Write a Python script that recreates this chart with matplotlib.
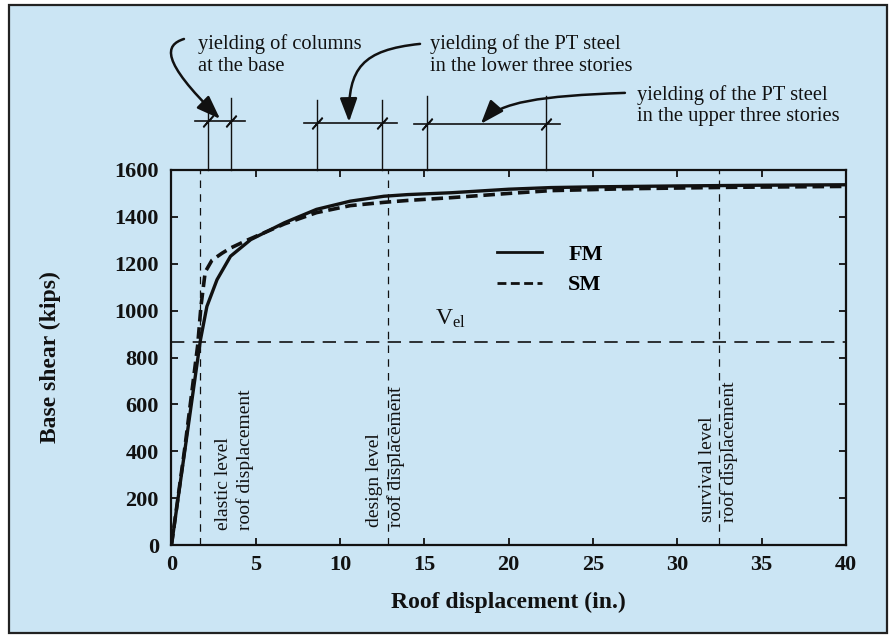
import numpy as np
import matplotlib.pyplot as plt
from matplotlib.patches import Rectangle, FancyArrowPatch
from matplotlib.path import Path
from matplotlib.lines import Line2D

plt.rcParams['font.family'] = ['Liberation Serif', 'DejaVu Serif']
plt.rcParams['mathtext.fontset'] = 'custom'
plt.rcParams['mathtext.rm'] = 'Liberation Serif'

# pushover curves (roof displacement in., base shear kips)
fm_disp = [0, 0.5, 1.0, 1.5, 1.72, 2.1, 2.7, 3.5, 4.7, 6.7, 8.6, 10.6, 12.6, 14.0, 16.6, 20, 22.5, 25, 30, 35, 40]
fm_shear = [0, 255, 510, 765, 876, 1018, 1132, 1232, 1303, 1375, 1432, 1467, 1488, 1495, 1503, 1518, 1525, 1528, 1532, 1535, 1537]
sm_disp = [0, 0.8, 1.55, 1.75, 2.0, 2.4, 3.0, 3.5, 4.5, 6.7, 8.6, 10.6, 12.6, 14.0, 16.6, 20, 22.5, 27, 33, 40]
sm_shear = [0, 420, 850, 1020, 1165, 1215, 1245, 1267, 1301, 1370, 1418, 1448, 1462, 1470, 1482, 1500, 1512, 1520, 1526, 1530]

v_el = 865
level_disp = [1.7, 12.85, 32.45]
level_labels = ['elastic level\nroof displacement', 'design level\nroof displacement',
                'survival level\nroof displacement']
level_label_x = [3.71, 12.69, 32.42]
level_label_y = [64, 77, 98]

yield_disp = [2.15, 3.51, 8.61, 12.50, 15.14, 22.19]
yield_bar_y = [1810, 1799, 1795]
yield_top = [1905, 1898, 1915]

x_ticks = [0, 5, 10, 15, 20, 25, 30, 35, 40]
y_ticks = [0, 200, 400, 600, 800, 1000, 1200, 1400, 1600]

bg = '#cbe5f4'
ink = '#111111'

fig = plt.figure(figsize=(8.89, 6.35), dpi=100)
fig.patch.set_facecolor('white')
frame = Rectangle((9 / 889, 1 - 633 / 635), 878 / 889, 628 / 635,
                  transform=fig.transFigure, facecolor=bg,
                  edgecolor='#222222', linewidth=1.6, zorder=-10)
fig.patches.append(frame)

ax = fig.add_axes([0.1929, 0.1417, 0.7587, 0.5906])
ax.set_facecolor('none')

ax.plot(fm_disp, fm_shear, color=ink, lw=2.4, solid_capstyle='butt', label='FM', zorder=4)
ax.plot(sm_disp, sm_shear, color=ink, lw=2.6, ls=(0, (3.2, 1.6)), label='SM', zorder=4)

ax.axhline(v_el, color=ink, lw=1.2, ls=(0, (8, 5)), zorder=3)
ax.text(15.6, 939, r'$\mathrm{V_{el}}$', fontsize=17, color=ink, va='baseline')

for xd, lab, lx, ly in zip(level_disp, level_labels, level_label_x, level_label_y):
    ax.axvline(xd, color=ink, lw=0.9, ls=(0, (6, 5)), zorder=2)
    ax.text(lx, ly, lab, rotation=90, ha='center', va='bottom', multialignment='left',
            fontsize=14, color=ink, linespacing=1.3)

# yielding markers above the plot
for i in range(3):
    x0, x1 = yield_disp[2 * i], yield_disp[2 * i + 1]
    yb = yield_bar_y[i]
    ax.plot([x0 - 0.75, x1 + 0.85], [yb, yb], color=ink, lw=1.2, clip_on=False)
    for xv in (x0, x1):
        ax.plot([xv, xv], [1600, yield_top[i]], color=ink, lw=1.0, clip_on=False)
        ax.plot([xv], [yb], marker=(2, 2, -42), ms=11, mew=1.2, color=ink, clip_on=False)

ann_texts = ['yielding of columns\nat the base',
             'yielding of the PT steel\nin the lower three stories',
             'yielding of the PT steel\nin the upper three stories']
ann_pos = [(1.57, 2178), (15.33, 2178), (27.6, 1962)]
for t, (tx, ty) in zip(ann_texts, ann_pos):
    ax.text(tx, ty, t, fontsize=14.8, color=ink, va='top', ha='left', linespacing=1.15)

arrows = [
    [(0.74, 2159), (-0.39, 2133), (-0.68, 2069), (2.88, 1818)],
    [(14.74, 2138), (11.30, 2112), (10.47, 2035), (10.53, 1805)],
    [(26.89, 1929), (21.85, 1916), (19.48, 1890), (18.35, 1797)],
]
for pts in arrows:
    p = Path(pts, [Path.MOVETO, Path.CURVE4, Path.CURVE4, Path.CURVE4])
    arr = FancyArrowPatch(path=p, arrowstyle='-|>,head_length=0.6,head_width=0.22',
                          mutation_scale=24, color=ink, lw=1.8, transform=ax.transData)
    arr.set_clip_on(False)
    ax.add_patch(arr)

ax.set_xlim(0, 40)
ax.set_ylim(0, 1600)
ax.set_xticks(x_ticks)
ax.set_yticks(y_ticks)
ax.tick_params(direction='in', top=True, right=True, length=5, width=1.3,
               labelsize=16, pad=9, colors=ink)
ax.tick_params(axis='x', pad=7)
for lab in ax.get_xticklabels() + ax.get_yticklabels():
    lab.set_fontweight('bold')
for s in ax.spines.values():
    s.set_linewidth(1.6)
    s.set_color(ink)

ax.set_xlabel('Roof displacement (in.)', fontsize=17, fontweight='bold', color=ink)
ax.set_ylabel('Base shear (kips)', fontsize=17, fontweight='bold', color=ink)
ax.xaxis.set_label_coords(0.5, -0.125)
ax.yaxis.set_label_coords(-0.1635, 0.5)

handles = [Line2D([], [], color=ink, lw=2.0),
           Line2D([], [], color=ink, lw=2.0, ls=(0, (3.2, 1.6)))]
ax.legend(handles, ['FM', 'SM'], loc='upper left', bbox_to_anchor=(0.4663, 0.831),
          frameon=False, borderpad=0, handlelength=2.0, handletextpad=1.2,
          labelspacing=0.44, prop={'weight': 'bold', 'size': 16})

plt.savefig('out.png', dpi=100)
plt.close()
